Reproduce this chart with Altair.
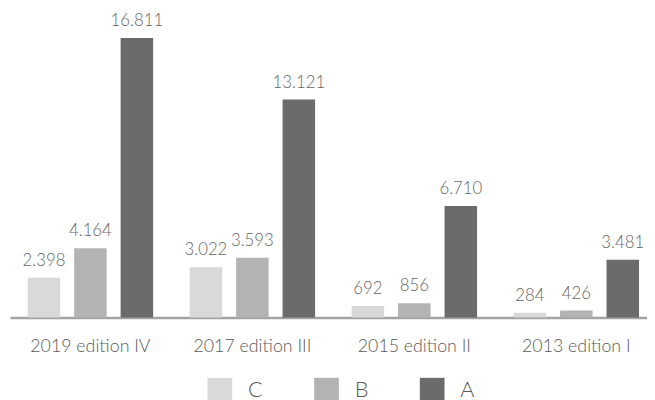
import altair as alt
import pandas as pd

editions = ["2019 edition IV", "2017 edition III", "2015 edition II", "2013 edition I"]
series = ["C", "B", "A"]
c_vals = [2398, 3022, 692, 284]
b_vals = [4164, 3593, 856, 426]
a_vals = [16811, 13121, 6710, 3481]
colors = ["#d9d9d9", "#b3b3b3", "#6b6b6b"]

rows = []
for s, vals in zip(series, [c_vals, b_vals, a_vals]):
    for e, v in zip(editions, vals):
        rows.append({"edition": e, "series": s, "value": v,
                     "label": f"{v:,}".replace(",", ".")})
df = pd.DataFrame(rows)

FONT = "Lato"

x = alt.X(
    "edition:N", sort=editions,
    scale=alt.Scale(paddingInner=0.2256, paddingOuter=0.0793, align=0.69),
    axis=alt.Axis(title=None, ticks=False, tickSize=0, domainColor="#a3a3a3", domainWidth=2.5,
                  labelFontSize=18, labelColor="#5a5a5a", labelPadding=29,
                  labelBaseline="middle", labelAngle=0, labelFont=FONT,
                  labelFontWeight=300, grid=False),
)
xo = alt.XOffset("series:N", sort=series, scale=alt.Scale(paddingInner=0.3, paddingOuter=0))
y = alt.Y("value:Q", scale=alt.Scale(domain=[0, 18000]), axis=None)

bars = alt.Chart(df).mark_bar().encode(
    x=x, xOffset=xo, y=y,
    color=alt.Color("series:N", sort=series,
                    scale=alt.Scale(domain=series, range=colors),
                    legend=alt.Legend(orient="none", legendX=200, legendY=364,
                                      direction="horizontal", title=None,
                                      symbolType="square", symbolSize=625,
                                      symbolStrokeWidth=0, symbolOpacity=1,
                                      labelFontSize=22, labelColor="#5a5a5a",
                                      labelFont=FONT, labelFontWeight=300,
                                      labelBaseline="middle",
                                      labelOffset=16, columnPadding=52, padding=0)),
)

labels = alt.Chart(df).mark_text(
    baseline="alphabetic", dy=-12, fontSize=17, color="#666666",
    font=FONT, fontWeight=300,
).encode(x=x, xOffset=xo, y=y, text="label:N")

chart = alt.layer(bars, labels).properties(
    width=645, height=303,
    padding={"left": 2, "top": 8, "right": 0, "bottom": 81},
    autosize=alt.AutoSizeParams(type="none"),
).configure_view(stroke=None)

chart.save("out.html", embed_options={"renderer": "svg", "actions": False})
